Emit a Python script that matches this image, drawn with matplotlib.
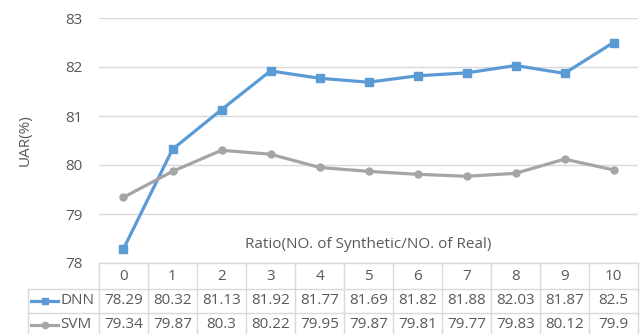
import matplotlib
matplotlib.use('Agg')
import matplotlib.pyplot as plt
from matplotlib.lines import Line2D

plt.rcParams['font.family'] = ['Open Sans', 'DejaVu Sans']

# Data
ratios = ['0', '1', '2', '3', '4', '5', '6', '7', '8', '9', '10']
dnn = [78.29, 80.32, 81.13, 81.92, 81.77, 81.69, 81.82, 81.88, 82.03, 81.87, 82.5]
svm = [79.34, 79.87, 80.3, 80.22, 79.95, 79.87, 79.81, 79.77, 79.83, 80.12, 79.9]
series_names = ['DNN', 'SVM']
yticks = [78, 79, 80, 81, 82, 83]

blue = '#5B9BD5'
gray = '#A5A5A5'
textc = '#595959'
gridc = '#D9D9D9'
fs = 11

W, H = 643, 334
fig = plt.figure(figsize=(W / 100, H / 100), dpi=100)

# plot area in pixel coordinates
left, right, top, bottom = 99, 638, 18, 263
ax = fig.add_axes([left / W, 1 - bottom / H, (right - left) / W, (bottom - top) / H])

x = list(range(len(ratios)))
ax.plot(x, dnn, color=blue, lw=2.3, marker='s', ms=5.5, zorder=3)
ax.plot(x, svm, color=gray, lw=2.3, marker='o', ms=5, zorder=3)

ax.set_xlim(-0.5, len(ratios) - 0.5)
ax.set_ylim(78, 83)
ax.set_yticks(yticks)
ax.set_xticks([])
ax.grid(axis='y', color=gridc, lw=1)
ax.set_axisbelow(True)
for s in ax.spines.values():
    s.set_visible(False)
ax.tick_params(axis='y', length=0, pad=12, labelsize=fs, labelcolor=textc)
ax.set_ylabel('UAR(%)', fontsize=fs, color=textc)
ax.yaxis.set_label_coords((33 - left) / (right - left), 0.5)
ax.text(0.5, 0.075, 'Ratio(NO. of Synthetic/NO. of Real)', transform=ax.transAxes,
        ha='center', va='center', fontsize=fs, color=textc)

# data table below the plot
def fx(px):
    return px / W

def fy(py):
    return 1 - py / H

cell_w = (right - left) / len(ratios)
row_lines = [263, 289, 313, 337]
legend_left = 28

def hline(y0, x0, x1):
    fig.add_artist(Line2D([fx(x0), fx(x1)], [fy(y0), fy(y0)], color=gridc, lw=1))

def vline(xp, y0, y1):
    fig.add_artist(Line2D([fx(xp), fx(xp)], [fy(y0), fy(y1)], color=gridc, lw=1))

hline(row_lines[0], left, right)
for yl in row_lines[1:]:
    hline(yl, legend_left, right)
vline(legend_left, row_lines[1], row_lines[3])
for i in range(len(ratios) + 1):
    vline(left + i * cell_w, row_lines[0], row_lines[3])

for i, r in enumerate(ratios):
    cx = left + (i + 0.5) * cell_w
    fig.text(fx(cx), fy((row_lines[0] + row_lines[1]) / 2), r, ha='center', va='center',
             fontsize=fs, color=textc)
    for j, vals in enumerate([dnn, svm]):
        cy = (row_lines[j + 1] + row_lines[j + 2]) / 2
        fig.text(fx(cx), fy(cy), f'{vals[i]:g}', ha='center', va='center',
                 fontsize=fs, color=textc)

# legend keys inside the table
for j, (name, col, mk) in enumerate(zip(series_names, [blue, gray], ['s', 'o'])):
    cy = (row_lines[j + 1] + row_lines[j + 2]) / 2
    fig.add_artist(Line2D([fx(31), fx(58)], [fy(cy), fy(cy)], color=col, lw=2.3))
    fig.add_artist(Line2D([fx(45)], [fy(cy)], color=col, marker=mk, ms=5 if mk == 's' else 4.5))
    fig.text(fx(60), fy(cy), name, ha='left', va='center', fontsize=fs, color=textc)

fig.savefig('out.png', dpi=100, facecolor='white')
